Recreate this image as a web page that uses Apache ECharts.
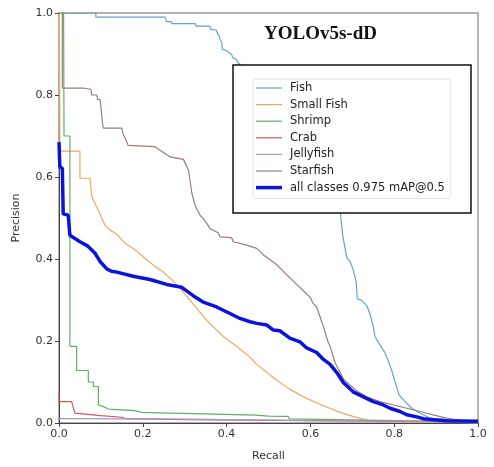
<!DOCTYPE html>
<html>
<head>
<meta charset="utf-8">
<script src="https://cdn.jsdelivr.net/npm/echarts@6/dist/echarts.min.js"></script>
<style>html,body{margin:0;padding:0;background:#fff}#c{width:494px;height:467px}</style>
</head>
<body>
<div id="c"></div>
<script>
var xTicks = ['0.0','0.2','0.4','0.6','0.8','1.0'];
var yTicks = ['0.0','0.2','0.4','0.6','0.8','1.0'];
var classNames = ['Fish','Small Fish','Shrimp','Crab','Jellyfish','Starfish','all classes 0.975 mAP@0.5'];

var fish = [[0,1.0],[0.088,1.0],[0.088,0.99],[0.253,0.99],[0.257,0.979],[0.268,0.979],[0.27,0.974],[0.325,0.974],[0.327,0.968],[0.36,0.968],[0.362,0.96],[0.376,0.958],[0.378,0.95],[0.382,0.945],[0.384,0.936],[0.388,0.93],[0.39,0.912],[0.40,0.908],[0.402,0.904],[0.412,0.899],[0.414,0.892],[0.424,0.886],[0.426,0.88],[0.45,0.86],[0.5,0.82],[0.55,0.77],[0.6,0.7],[0.64,0.62],[0.671,0.52],[0.677,0.458],[0.687,0.402],[0.695,0.394],[0.702,0.374],[0.709,0.346],[0.712,0.303],[0.722,0.299],[0.734,0.287],[0.742,0.267],[0.750,0.235],[0.754,0.211],[0.766,0.191],[0.778,0.171],[0.786,0.151],[0.794,0.128],[0.802,0.100],[0.812,0.068],[0.826,0.052],[0.842,0.036],[0.862,0.024],[0.885,0.012],[0.925,0.008],[1.0,0]];

var smallFish = [[0.001,1.0],[0.002,0.663],[0.05,0.663],[0.05,0.597],[0.074,0.597],[0.078,0.553],[0.094,0.518],[0.110,0.482],[0.118,0.474],[0.138,0.460],[0.158,0.438],[0.180,0.424],[0.205,0.402],[0.229,0.382],[0.249,0.368],[0.281,0.338],[0.313,0.299],[0.352,0.251],[0.392,0.211],[0.424,0.187],[0.456,0.160],[0.472,0.143],[0.511,0.111],[0.551,0.082],[0.591,0.060],[0.631,0.042],[0.671,0.026],[0.711,0.013],[0.740,0.006],[0.8,0.003],[1.0,0]];

var shrimp = [[0.011,1.0],[0.012,0.70],[0.026,0.70],[0.026,0.187],[0.042,0.187],[0.042,0.128],[0.07,0.128],[0.07,0.10],[0.082,0.10],[0.082,0.089],[0.094,0.089],[0.094,0.044],[0.106,0.04],[0.106,0.037],[0.118,0.034],[0.181,0.030],[0.197,0.026],[0.468,0.019],[0.50,0.017],[0.547,0.016],[0.55,0.01],[0.8,0.006],[1.0,0]];

var crab = [[0,0.074],[0,0.052],[0.03,0.052],[0.038,0.024],[0.10,0.018],[0.15,0.014],[0.16,0.0105],[0.3,0.008],[0.6,0.006],[0.9,0.004],[1.0,0]];

var jellyfish = [[0,0.0105],[0.3,0.0095],[0.6,0.006],[0.9,0.004],[1.0,0]];

var starfish = [[0.008,1.0],[0.008,0.817],[0.058,0.817],[0.06,0.814],[0.076,0.814],[0.078,0.80],[0.09,0.80],[0.092,0.789],[0.098,0.789],[0.099,0.781],[0.101,0.781],[0.104,0.729],[0.106,0.719],[0.15,0.719],[0.153,0.705],[0.162,0.685],[0.165,0.677],[0.229,0.674],[0.245,0.663],[0.265,0.649],[0.297,0.643],[0.309,0.617],[0.317,0.561],[0.325,0.530],[0.337,0.506],[0.345,0.498],[0.356,0.482],[0.360,0.474],[0.380,0.464],[0.384,0.454],[0.412,0.452],[0.416,0.442],[0.448,0.434],[0.472,0.426],[0.488,0.410],[0.520,0.386],[0.543,0.362],[0.567,0.338],[0.587,0.319],[0.599,0.307],[0.607,0.291],[0.615,0.283],[0.623,0.259],[0.631,0.235],[0.643,0.195],[0.647,0.187],[0.659,0.147],[0.667,0.131],[0.679,0.107],[0.695,0.092],[0.714,0.076],[0.734,0.064],[0.766,0.052],[0.798,0.044],[0.830,0.036],[0.862,0.028],[0.893,0.020],[0.925,0.012],[1.0,0]];

var allClasses = [[0,0.685],[0.002,0.625],[0.008,0.621],[0.010,0.51],[0.022,0.507],[0.026,0.458],[0.038,0.450],[0.05,0.442],[0.068,0.432],[0.074,0.426],[0.086,0.414],[0.098,0.394],[0.114,0.376],[0.125,0.370],[0.138,0.368],[0.177,0.358],[0.217,0.350],[0.257,0.338],[0.293,0.331],[0.321,0.310],[0.344,0.295],[0.376,0.283],[0.408,0.267],[0.432,0.255],[0.456,0.247],[0.472,0.243],[0.496,0.239],[0.511,0.227],[0.527,0.225],[0.551,0.207],[0.575,0.198],[0.591,0.183],[0.615,0.172],[0.631,0.155],[0.647,0.143],[0.663,0.123],[0.679,0.098],[0.702,0.076],[0.734,0.060],[0.750,0.052],[0.774,0.044],[0.790,0.036],[0.814,0.028],[0.830,0.020],[0.854,0.015],[0.869,0.0105],[0.893,0.008],[0.925,0.0057],[1.0,0.004]];

var seriesData = [fish, smallFish, shrimp, crab, jellyfish, starfish, allClasses];
var colors = ['#62a3c9','#eda75f','#62b062','#c95a5a','#a595c9','#9c7d77','#0a12dc'];
var widths = [1.2,1.2,1.2,1.2,1.2,1.2,3.5];

var chart = echarts.init(document.getElementById('c'), null, {renderer:'canvas'});
var series = seriesData.map(function(d,i){
  return {
    name: classNames[i], type:'line', data:d, showSymbol:false, symbol:'none',
    lineStyle:{color:colors[i], width:widths[i]}, itemStyle:{color:colors[i]},
    z: i===6 ? 5 : 3, animation:false
  };
});
var legendData = classNames.map(function(n,i){
  var h = widths[i];
  return {name:n, icon:'path://M0,0H26V' + h + 'H0Z', itemStyle:{color:colors[i], borderWidth:0}};
});
var fontFam = 'DejaVu Sans';
chart.setOption({
  animation:false,
  title:{text:'YOLOv5s-dD', left:259, top:20, textStyle:{fontFamily:'Liberation Serif', fontWeight:'bold', fontSize:19, color:'#111'}},
  grid:{left:59, right:16, top:13, bottom:35, show:true, borderColor:'#999', borderWidth:1.5, backgroundColor:'transparent'},
  xAxis:{type:'value', min:0, max:1, interval:0.2, name:'Recall', nameLocation:'middle', nameGap:28,
    nameTextStyle:{fontFamily:fontFam, fontSize:11, color:'#333'},
    axisLine:{lineStyle:{color:'#444', width:1}}, axisTick:{length:4, lineStyle:{color:'#444'}},
    axisLabel:{fontFamily:fontFam, fontSize:11, color:'#333', margin:6, formatter:function(v){return xTicks[Math.round(v/0.2)];}},
    splitLine:{show:false}},
  yAxis:{type:'value', min:0, max:1, interval:0.2, name:'Precision', nameLocation:'middle', nameGap:37,
    nameTextStyle:{fontFamily:fontFam, fontSize:11, color:'#333'},
    axisLine:{show:true, lineStyle:{color:'#444', width:1}}, axisTick:{show:true, length:4, lineStyle:{color:'#444'}},
    axisLabel:{fontFamily:fontFam, fontSize:11, color:'#333', margin:6, formatter:function(v){return yTicks[Math.round(v/0.2)];}},
    splitLine:{show:false}},
  graphic:[{type:'rect', shape:{x:233, y:65, width:238, height:148}, style:{fill:'#fff', stroke:'#111', lineWidth:1.5}, z:50}],
  legend:{orient:'vertical', left:253, top:79, padding:[3,6,5,3], itemWidth:26, itemHeight:12, itemGap:4.6,
    symbolKeepAspect:true,
    borderColor:'#e2e2e2', borderWidth:1, borderRadius:3, backgroundColor:'#fff', z:60,
    textStyle:{fontFamily:fontFam, fontSize:11.5, color:'#222', padding:[0,0,0,3]},
    data:legendData},
  series:series
});
</script>
</body>
</html>
